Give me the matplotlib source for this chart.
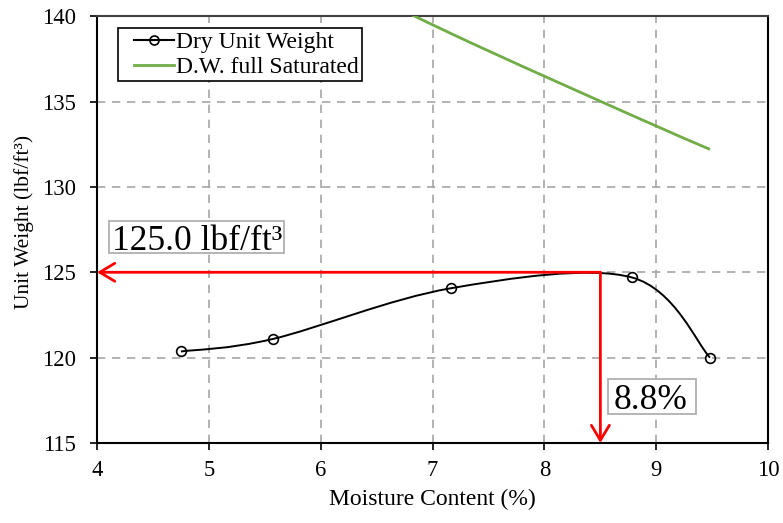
import matplotlib
matplotlib.use("Agg")
import matplotlib.pyplot as plt
from matplotlib.path import Path
from matplotlib.patches import PathPatch, Rectangle
from matplotlib.legend_handler import HandlerLine2D
import numpy as np

# ---- data ----
moisture = [4.75, 5.57, 7.16, 8.78, 9.48]
dry_unit_weight = [120.36, 121.09, 124.06, 124.70, 120.00]
sat_moisture = [5.57, 7.16, 8.78, 9.48]
sat_unit_weight = [144.1, 139.0, 134.2, 132.2]
max_dry_weight = 125.0
opt_marker_x = 8.5
label_max = "125.0 lbf/ft\u00b3"
label_opt = "8.8%"
x_ticks = [4, 5, 6, 7, 8, 9, 10]
y_ticks = [115, 120, 125, 130, 135, 140]

plt.rcParams['font.family'] = ['Liberation Serif', 'DejaVu Serif']

DPI = 100
fig = plt.figure(figsize=(7.83, 5.23), dpi=DPI)
ax = fig.add_axes([0.124, 0.153, 0.857, 0.816])


def smooth_path(xs, ys):
    """Excel-style smoothed line using cubic Bezier segments."""
    pts = list(zip(xs, ys))
    n = len(pts)
    verts = [pts[0]]
    codes = [Path.MOVETO]
    for i in range(n - 1):
        p0 = pts[i - 1] if i > 0 else pts[i]
        p1 = pts[i]
        p2 = pts[i + 1]
        p3 = pts[i + 2] if i + 2 < n else pts[i + 1]
        c1 = (p1[0] + (p2[0] - p0[0]) / 6, p1[1] + (p2[1] - p0[1]) / 6)
        c2 = (p2[0] - (p3[0] - p1[0]) / 6, p2[1] - (p3[1] - p1[1]) / 6)
        verts += [c1, c2, p2]
        codes += [Path.CURVE4] * 3
    return Path(verts, codes)


ax.add_patch(PathPatch(smooth_path(moisture, dry_unit_weight), fill=False,
                       edgecolor='black', lw=1.4, zorder=3))
ax.plot(moisture, dry_unit_weight, linestyle='none', marker='o', ms=7,
        mfc='none', mec='black', mew=1.2, zorder=4)
ax.add_patch(PathPatch(smooth_path(sat_moisture, sat_unit_weight), fill=False,
                       edgecolor='#70AD47', lw=2, zorder=3))

# legend proxies
h1, = ax.plot([], [], color='black', marker='o', ms=6.5, mfc='none', mec='black',
              mew=1.2, lw=1.5, label='Dry Unit Weight')
h2, = ax.plot([], [], color='#70AD47', lw=2, label='D.W. full Saturated')

# red arrows
astyle = '->,head_length=0.4,head_width=0.24'
ax.annotate('', xy=(x_ticks[0], max_dry_weight), xytext=(opt_marker_x, max_dry_weight),
            arrowprops=dict(arrowstyle=astyle, color='red', lw=2, mutation_scale=27,
                            shrinkA=0, shrinkB=0), zorder=5)
ax.annotate('', xy=(opt_marker_x, y_ticks[0]), xytext=(opt_marker_x, max_dry_weight),
            arrowprops=dict(arrowstyle=astyle, color='red', lw=2, mutation_scale=27,
                            shrinkA=0, shrinkB=0), zorder=5)

ax.set_xlim(4, 10)
ax.set_ylim(115, 140)
ax.set_xticks(x_ticks)
ax.set_yticks(y_ticks)
ax.grid(True, linestyle=(0, (5, 4)), color='#A6A6A6', lw=1.2)
ax.set_axisbelow(True)
ax.tick_params(direction='out', length=5, width=1.2, labelsize=16.3)
ax.tick_params(axis='y', pad=10)
ax.tick_params(axis='x', pad=7.2)
for s in ax.spines.values():
    s.set_linewidth(1.5)
    s.set_color('black')
ax.spines['top'].set_color('#404040')

ax.set_xlabel('Moisture Content (%)', fontsize=17, labelpad=5.4)
ax.set_ylabel('Unit Weight (lbf/ft\u00b3)', fontsize=15.5)
ax.yaxis.set_label_coords(-0.094, 0.5176)

leg = ax.legend(handles=[h1, h2], loc='upper left', bbox_to_anchor=(0.0313, 0.972),
                fontsize=17, frameon=True, fancybox=False, edgecolor='black',
                framealpha=1, borderpad=0.15, labelspacing=0.13, handlelength=2.2,
                handletextpad=0.1, borderaxespad=0,
                handler_map={h1: HandlerLine2D(xpad=0.52, numpoints=1),
                             h2: HandlerLine2D(xpad=0.52)})
leg.get_frame().set_linewidth(1.2)


def boxed_text(x, y, s, fs, pads):
    """Text anchored at baseline with a tight grey frame (pads: l, r, top, bottom px)."""
    t = ax.text(x, y, s, fontsize=fs, ha='left', va='baseline', zorder=7)
    fig.canvas.draw()
    r = fig.canvas.get_renderer()
    ext = t.get_window_extent(r)
    bx, by = ax.transData.transform((x, y))
    em = fs * DPI / 72.0
    cap = 0.676 * em
    l, rr, tp, bt = pads
    x0, x1 = ext.x0 - l, ext.x1 + rr
    y0, y1 = by - bt, by + cap + tp
    inv = ax.transAxes.inverted()
    (ax0, ay0) = inv.transform((x0, y0))
    (ax1, ay1) = inv.transform((x1, y1))
    ax.add_patch(Rectangle((ax0, ay0), ax1 - ax0, ay1 - ay0, transform=ax.transAxes,
                           fc='white', ec='#B0B0B0', lw=1.3, zorder=6, clip_on=False))


boxed_text(4.135, 126.30, label_max, 25.5, (3, 2, 5, 3))
boxed_text(8.62, 116.97, label_opt, 25.5, (6, 8, 6, 5))

fig.savefig('out.png', dpi=DPI)
